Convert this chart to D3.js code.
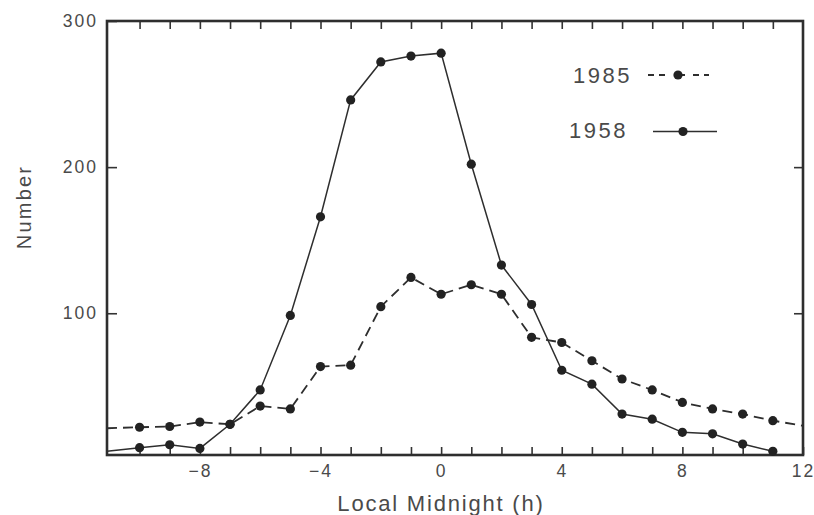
<!DOCTYPE html>
<html>
    <head>
        <meta charset="utf-8">
        <script src="https://d3js.org/d3.v7.min.js"></script>
        <style type=text/css>
            html, body{
                margin:0;
                padding:0;
                background:#fff;
            }
            svg{
                display:block;
                font-family:'Liberation Sans', Arial, sans-serif;
            }
            .lbl{
                fill:#4a4a4a;
            }
            .axis path{
                display:none;
            }
            .axis line{
                stroke:#333;
                stroke-width:1.6;
            }
            .axis text{
                fill:#4a4a4a;
                font-size:17.5px;
                letter-spacing:2px;
                font-family:'Liberation Sans', Arial, sans-serif;
            }
        </style>
    </head>
    <body>
        <div id="chart"></div>
        <script>
            // hours from local midnight
            var hours = [-10, -9, -8, -7, -6, -5, -4, -3, -2, -1, 0, 1, 2, 3, 4, 5, 6, 7, 8, 9, 10, 11];
            var s1958 = [8, 10, 7.5, 24, 47.5, 98.5, 166, 246, 272, 276, 278, 202, 133, 106, 61, 51.5, 31, 27.5, 18.5, 17.5, 10.5, 5.5];
            var s1985 = [22, 22.5, 25.5, 24, 36.5, 34.5, 63.5, 64.5, 104.5, 124.5, 113, 119.5, 113, 83.5, 80, 67.5, 55, 47.5, 39, 34.5, 31, 26.5];

            // where the lines run off into the frame (no dot)
            var edgeHours = [-11.08, 12];
            var edge1958 = [5.5, null];
            var edge1985 = [21.3, 23];

            var xLabels = [-8, -4, 0, 4, 8, 12];
            var yLabels = [100, 200, 300];
            var legendNames = ['1985', '1958'];

            var W = 814, H = 515;
            var padL = 107, padR = 803, padT = 21, padB = 455;

            var svg = d3.select('#chart').append('svg')
                .attr('width', W)
                .attr('height', H);

            var x = d3.scaleLinear().domain([edgeHours[0], 12]).range([padL, padR]);
            var y = d3.scaleLinear().domain([3, 300]).range([padB, padT]);

            var fmt = function(d){ return xLabels.indexOf(d) >= 0 ? d3.format('')(d) : ''; };

            // bottom axis, ticks pointing in
            svg.append('g')
                .attr('class', 'axis')
                .attr('transform', 'translate(0,' + padB + ')')
                .call(d3.axisBottom(x).tickValues(hours.concat([12])).tickSize(-8).tickPadding(10).tickFormat(fmt));

            // top axis, no labels
            svg.append('g')
                .attr('class', 'axis')
                .attr('transform', 'translate(0,' + padT + ')')
                .call(d3.axisTop(x).tickValues(hours).tickSize(-8).tickFormat(''));

            // left axis
            svg.append('g')
                .attr('class', 'axis')
                .attr('transform', 'translate(' + padL + ',0)')
                .call(d3.axisLeft(y).tickValues(yLabels).tickSize(-10).tickPadding(9).tickFormat(d3.format('')));

            // right axis
            svg.append('g')
                .attr('class', 'axis')
                .attr('transform', 'translate(' + padR + ',0)')
                .call(d3.axisRight(y).tickValues([100, 200]).tickSize(-9).tickFormat(''));

            // frame
            svg.append('rect')
                .attr('x', padL)
                .attr('y', padT)
                .attr('width', padR - padL)
                .attr('height', padB - padT)
                .attr('fill', 'none')
                .attr('stroke', '#2e2e2e')
                .attr('stroke-width', 2.6);

            var line = d3.line()
                .x(function(d){ return x(d[0]); })
                .y(function(d){ return y(d[1]); });

            function pts(vals, edges){
                var p = hours.map(function(h, i){ return [h, vals[i]]; });
                if (edges[0] != null) p.unshift([edgeHours[0], edges[0]]);
                if (edges[1] != null) p.push([edgeHours[1], edges[1]]);
                return p;
            }

            svg.append('path')
                .datum(pts(s1985, edge1985))
                .attr('d', line)
                .attr('fill', 'none')
                .attr('stroke', '#2e2e2e')
                .attr('stroke-width', 1.8)
                .attr('stroke-dasharray', '10,6');

            svg.append('path')
                .datum(pts(s1958, edge1958))
                .attr('d', line)
                .attr('fill', 'none')
                .attr('stroke', '#2e2e2e')
                .attr('stroke-width', 1.5);

            [s1985, s1958].forEach(function(s){
                svg.append('g').selectAll('circle')
                    .data(hours)
                    .enter()
                    .append('circle')
                    .attr('cx', function(d){ return x(d); })
                    .attr('cy', function(d, i){ return y(s[i]); })
                    .attr('r', 4.6)
                    .attr('fill', '#222');
            });

            // legend
            var lg = svg.append('g');
            lg.append('text').attr('class', 'lbl')
                .attr('x', 632).attr('y', 83)
                .attr('text-anchor', 'end')
                .style('font-size', '22px').style('letter-spacing', '2.5px')
                .text(legendNames[0]);
            lg.append('line')
                .attr('x1', 648).attr('x2', 709).attr('y1', 75).attr('y2', 75)
                .attr('stroke', '#2e2e2e').attr('stroke-width', 1.8)
                .attr('stroke-dasharray', '6,5,6,14,6,8');
            lg.append('circle').attr('cx', 678).attr('cy', 75).attr('r', 4.6).attr('fill', '#222');

            lg.append('text').attr('class', 'lbl')
                .attr('x', 628).attr('y', 138)
                .attr('text-anchor', 'end')
                .style('font-size', '22px').style('letter-spacing', '2.5px')
                .text(legendNames[1]);
            lg.append('line')
                .attr('x1', 653).attr('x2', 717).attr('y1', 131.5).attr('y2', 131.5)
                .attr('stroke', '#2e2e2e').attr('stroke-width', 1.5);
            lg.append('circle').attr('cx', 683).attr('cy', 131.5).attr('r', 4.6).attr('fill', '#222');

            // axis titles
            svg.append('text').attr('class', 'lbl')
                .attr('x', 441).attr('y', 511)
                .attr('text-anchor', 'middle')
                .style('font-size', '22px').style('letter-spacing', '1.8px')
                .text('Local Midnight (h)');

            svg.append('text').attr('class', 'lbl')
                .attr('transform', 'translate(31,207) rotate(-90)')
                .attr('text-anchor', 'middle')
                .style('font-size', '20px').style('letter-spacing', '2.2px')
                .text('Number');
        </script>
    </body>
</html>
